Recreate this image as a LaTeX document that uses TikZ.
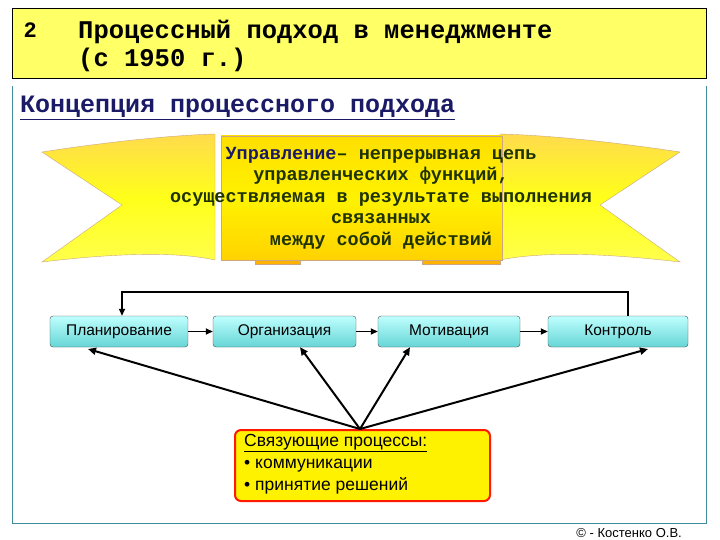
\documentclass[tikz,border=0pt]{standalone}
\usepackage{fontspec}
\setmainfont{Liberation Sans}
\newfontfamily\slab{Liberation Mono}
\usetikzlibrary{arrows.meta}
\definecolor{ttl}{HTML}{FFFF66}
\definecolor{frame}{HTML}{3E8E9E}
\definecolor{navy}{HTML}{1A1A66}
\definecolor{bantxt}{HTML}{1F3300}
\tikzset{
  proc/.style={draw=black!70, rounded corners=3pt, top color=cyan!25, bottom color=teal!55!cyan!60, minimum width=138pt, minimum height=31pt, font=\fontsize{15.5}{17}\selectfont, inner sep=0pt},
  arr/.style={-{Triangle[length=7pt,width=6pt]}, line width=1.8pt},
  link/.style={-{Triangle[length=8pt,width=7pt]}, line width=2pt}
}
\begin{document}
\begin{tikzpicture}[x=1pt,y=-1pt]
\useasboundingbox (0,0) rectangle (720,540);
\fill[white] (0,0) rectangle (720,540);
% title
\node[draw=black, fill=ttl, minimum width=694pt, minimum height=70pt, anchor=north west, inner sep=0pt] (title) at (12,8) {};
\node[anchor=west, font=\slab\bfseries\fontsize{22}{24}\selectfont] (num) at (20,30) {2};
\node[anchor=north west, align=left, font=\slab\bfseries\fontsize{25.5}{28}\selectfont, inner sep=0pt] (ttext) at (78,20) {Процессный подход в менеджменте\\(с 1950 г.)};
% frame
\draw[frame, line width=0.8pt] (12,86) -- (12,523) -- (706,523) -- (706,86);
\node[anchor=west, font=\slab\bfseries\fontsize{25}{27}\selectfont, text=navy, inner sep=0pt] (sub) at (20,108) {\underline{Концепция процессного подхода}};
% banner
\shade[top color=yellow!60!orange!70, bottom color=yellow!70, middle color=yellow!90, draw=orange!60!black!50]
  (42,152) .. controls (120,140) and (180,135) .. (215,134) -- (215,260)
  .. controls (170,250) and (100,255) .. (42,262) -- (122,205) -- cycle;
\shade[top color=yellow!60!orange!70, bottom color=yellow!70, middle color=yellow!90, draw=orange!60!black!50]
  (680,152) .. controls (600,140) and (540,135) .. (500,134) -- (500,260)
  .. controls (550,250) and (620,255) .. (680,262) -- (600,205) -- cycle;
\fill[orange!60!yellow, draw=orange!60!black!50] (255,255) rectangle (300,264);
\fill[orange!60!yellow, draw=orange!60!black!50] (422,255) rectangle (500,264);
\shade[top color=yellow!75!orange, bottom color=yellow!65!orange, middle color=yellow!90!orange, draw=orange!60!black!50] (221,136) rectangle (502,260);
\node[align=center, font=\slab\bfseries\fontsize{18.5}{21.5}\selectfont, text=bantxt, inner sep=0pt] (ban) at (381,198)
 {\textcolor{navy}{Управление}– непрерывная цепь\\управленческих функций,\\осуществляемая в результате выполнения\\связанных\\между собой действий};
% boxes
\node[proc] (p1) at (119,331.5) {Планирование};
\node[proc, minimum width=143pt] (p2) at (284.5,331.5) {Организация};
\node[proc, minimum width=142pt] (p3) at (449,331.5) {Мотивация};
\node[proc, minimum width=140pt] (p4) at (618,331.5) {Контроль};
\draw[arr] (p1) -- (p2);
\draw[arr] (p2) -- (p3);
\draw[arr] (p3) -- (p4);
\coordinate (br) at (628,292);
\draw[line width=1.8pt, -{Triangle[length=7pt,width=6pt]}] (p4.north -| br) -- (br) -- (122,292) -- (p1.north -| 122,0);
% bottom box
\node[draw=red!80!orange, line width=2pt, fill=yellow, rounded corners=6pt, minimum width=255pt, minimum height=71pt, anchor=north west, inner sep=0pt] (bb) at (234,429) {};
\node[anchor=north west, align=left, font=\fontsize{17.5}{22}\selectfont, inner sep=0pt] (bbt) at (244,434) {\underline{Связующие процессы:}\\• коммуникации\\• принятие решений};
\coordinate (hub) at (360,429);
\draw[link] (hub) -- (88,349);
\draw[link] (hub) -- (p2.south -| 300,0);
\draw[link] (hub) -- (p3.south -| 410,0);
\draw[link] (hub) -- (648,349);
\node[anchor=east, font=\fontsize{13}{15}\selectfont, inner sep=0pt] (copy) at (682,533) {© - Костенко О.В.};
\end{tikzpicture}
\end{document}
